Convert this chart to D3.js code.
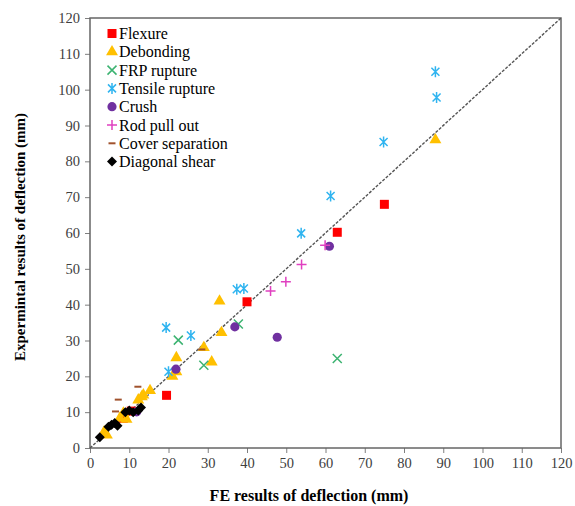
<!DOCTYPE html>
<html>
<head>
<meta charset="utf-8">
<script src="https://cdn.jsdelivr.net/npm/d3@7"></script>
<style>
  body { margin: 0; background: #fff; }
</style>
</head>
<body>
<svg id="chart"></svg>
<script>
// FE (x) vs experimental (y) deflection, mm
const flexure = [[19.5,14.7],[40,40.8],[63,60.2],[75,68],[8.5,8.3],[10.5,10.3]];
const debonding = [[88,86],[33,41],[33.5,32.2],[29,28],[31,24],[22,25.2],[21,20],[22,21.3],
  [15.3,16],[13.2,14.3],[13.6,14.8],[12.3,13.4],[9.3,8],[7.6,8.3],[8.5,9.7],[4.3,3.6],[3.6,4.5]];
const frpRupture = [[63,25],[22.5,30.1],[29,23.1],[37.8,34.6]];
const tensileRupture = [[88,105],[88.3,97.8],[74.8,85.4],[61.3,70.3],[53.8,59.9],[37.4,44.3],
  [39.2,44.5],[19.4,33.6],[25.7,31.4],[20,21.3]];
const crush = [[61,56.3],[36.9,33.8],[47.7,30.9],[21.9,22],[11.9,10.1]];
const rodPullOut = [[59.9,56.6],[53.9,51.2],[49.9,46.4],[46,43.8]];
const coverSeparation = [[12.2,17.1],[7.2,13.5],[6.5,10.2],[28.5,27.5]];
const diagonalShear = [[2.5,3],[4.7,5.9],[5.5,6.5],[6.3,7],[7,6.2],[9,10],[10,10.5],[11,10],[12.3,10.5],[13,11.3]];

const seriesNames = ["Flexure","Debonding","FRP rupture","Tensile rupture","Crush","Rod pull out","Cover separation","Diagonal shear"];
const seriesData = [flexure, debonding, frpRupture, tensileRupture, crush, rodPullOut, coverSeparation, diagonalShear];
const axisTicks = [0,10,20,30,40,50,60,70,80,90,100,110,120];

const colors = ["#ff0000","#ffc000","#3cb371","#2fb4f0","#7030a0","#e040c0","#a0522d","#000000"];

const serif = '"Liberation Serif", "Times New Roman", serif';
const width = 575, height = 506;
const margin = {top: 18, right: 14, bottom: 58, left: 90};
const innerW = width - margin.left - margin.right;
const innerH = height - margin.top - margin.bottom;

const svg = d3.select("#chart").attr("width", width).attr("height", height);
const g = svg.append("g").attr("transform", `translate(${margin.left},${margin.top})`);

const x = d3.scaleLinear().domain([0,120]).range([0, innerW]);
const y = d3.scaleLinear().domain([0,120]).range([innerH, 0]);

function styleAxis(a) {
  a.select(".domain").remove();
  a.attr("font-family", serif).attr("font-size", 14.5);
  a.selectAll(".tick text").style("font-family", serif).style("font-size", "14.5px").attr("fill", "#404040");
  a.selectAll(".tick line").attr("stroke", "#7f7f7f");
}

// axes
g.append("g")
  .attr("transform", `translate(0,${innerH})`)
  .call(d3.axisBottom(x).tickValues(axisTicks).tickSize(5).tickPadding(5))
  .call(styleAxis);
g.append("g")
  .call(d3.axisLeft(y).tickValues(axisTicks).tickSize(5).tickPadding(5))
  .call(styleAxis);

// plot frame
g.append("rect")
  .attr("width", innerW).attr("height", innerH)
  .attr("fill", "none").attr("stroke", "#666").attr("stroke-width", 1.5);

// 1:1 line
g.append("line")
  .attr("x1", x(0)).attr("y1", y(0)).attr("x2", x(120)).attr("y2", y(120))
  .attr("stroke", "#555").attr("stroke-width", 1.4).attr("stroke-dasharray", "3,1.5");

// marker shapes
const sym = (type, size) => d3.symbol().type(type).size(size)();
const markerPath = [
  () => "M-4.5,-4.5H4.5V4.5H-4.5Z",
  () => sym(d3.symbolTriangle, 62),
  () => "M-4.5,-4.5L4.5,4.5M-4.5,4.5L4.5,-4.5",
  () => "M-4,-4L4,4M-4,4L4,-4M0,-5.5V5.5",
  () => sym(d3.symbolCircle, 66),
  () => "M-5,0H5M0,-5V5",
  () => "M-3.5,0H3.5",
  () => "M0,-5L5,0L0,5L-5,0Z"
];
const filled = [true, true, false, false, true, false, false, true];

function drawMarker(sel, i) {
  sel.append("path")
    .attr("d", markerPath[i]())
    .attr("fill", filled[i] ? colors[i] : "none")
    .attr("stroke", colors[i])
    .attr("stroke-width", filled[i] ? 0 : (i === 6 ? 2 : 1.5));
}

seriesData.forEach((data, i) => {
  g.selectAll(`.pt-${i}`)
    .data(data)
    .join("g")
    .attr("class", `pt-${i}`)
    .attr("transform", d => `translate(${x(d[0])},${y(d[1])})`)
    .each(function() { drawMarker(d3.select(this), i); });
});

// legend
const legend = svg.append("g");
seriesNames.forEach((name, i) => {
  const row = legend.append("g").attr("transform", `translate(112,${33.5 + i * 18.3})`);
  drawMarker(row, i);
  row.append("text")
    .attr("x", 7).attr("y", 5.5)
    .style("font-family", serif).style("font-size", "16px")
    .attr("fill", "#000")
    .text(name);
});

// axis titles
svg.append("text")
  .attr("x", 309).attr("y", 501)
  .attr("text-anchor", "middle")
  .style("font-family", serif).style("font-size", "16px").style("font-weight", "bold")
  .text("FE results of deflection (mm)");
svg.append("text")
  .attr("transform", `translate(25,${margin.top + innerH / 2 + 4}) rotate(-90)`)
  .attr("text-anchor", "middle")
  .style("font-family", serif).style("font-size", "15px").style("font-weight", "bold")
  .text("Expermintal results of deflection (mm)");
</script>
</body>
</html>
